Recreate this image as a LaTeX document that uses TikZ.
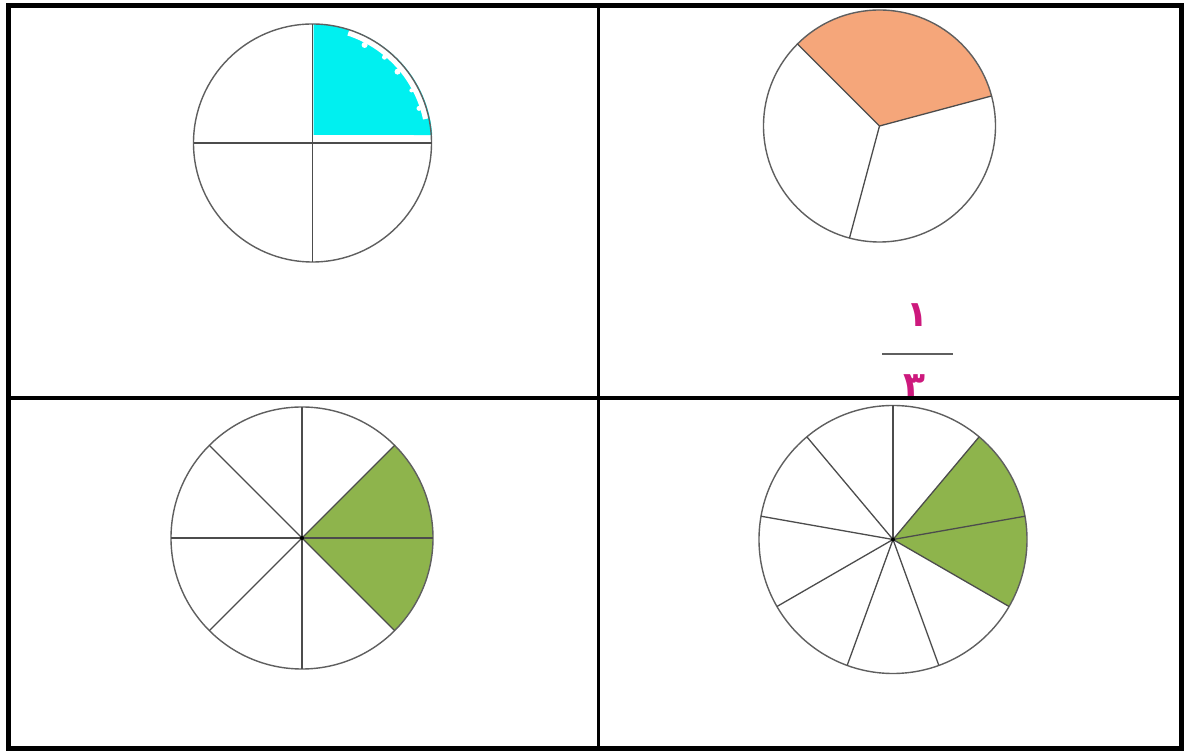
\documentclass[tikz,border=0pt]{standalone}
\usepackage{fontspec}
\newfontfamily\arabicfont[Script=Arabic]{DejaVu Sans}
\TeXXeTstate=1
\definecolor{cyanfill}{RGB}{0,240,240}
\definecolor{orangefill}{RGB}{245,166,122}
\definecolor{greenfill}{RGB}{142,180,76}
\definecolor{pinkdigit}{RGB}{205,25,125}
\definecolor{outline}{RGB}{95,95,95}
\begin{document}
\begin{tikzpicture}[x=1pt,y=1pt,
  rim/.style={draw=outline,line width=1.4pt},
  spoke/.style={draw=outline!80!black,line width=1.3pt},
  framebox/.style={line width=5pt},
  digit/.style={text=pinkdigit,font=\arabicfont\bfseries\fontsize{36}{40}\selectfont,inner sep=0pt}]
\useasboundingbox (0,0) rectangle (1184,752);
\fill[white] (0,0) rectangle (1184,752);

% top-left circle: one quarter
\coordinate (c1) at (312.5,609);
\fill[cyanfill] (313.5,617) -- (313.5,728) arc[start angle=90,end angle=3.85,radius=119] -- cycle;
\draw[white,line width=6pt] (c1) ++(72:116) arc[start angle=72,end angle=12,radius=116];
\fill[white] (c1) ++(62:111) circle[radius=3];
\fill[white] (c1) ++(50:112) circle[radius=2.5];
\fill[white] (c1) ++(40:111) circle[radius=3];
\fill[white] (c1) ++(28:112) circle[radius=2];
\fill[white] (c1) ++(18:112) circle[radius=2.5];
\draw[rim] (c1) circle[radius=119];
\draw[spoke] (c1) ++(-119,0) -- ++(238,0);
\draw[spoke] (c1) ++(0,-119) -- ++(0,238);

% top-right circle: one third
\coordinate (c2) at (879.5,626);
\fill[orangefill] (c2) -- ++(15:116) arc[start angle=15,end angle=135,radius=116] -- cycle;
\draw[rim] (c2) circle[radius=116];
\foreach \a in {15,135,255} \draw[spoke] (c2) -- ++(\a:116);

% fraction 1/3
\node[digit] (one) at (917,437) {\beginR ١\endR};
\coordinate (barL) at (882,398);
\coordinate (barR) at (953,398);
\draw[draw=outline,line width=1.5pt] (barL) -- (barR);
\node[digit] (three) at (914,366) {\beginR ٣\endR};

% bottom-left circle: eighths
\coordinate (c3) at (302,214);
\fill[greenfill] (c3) -- ++(-45:131) arc[start angle=-45,end angle=45,radius=131] -- cycle;
\draw[rim] (c3) circle[radius=131];
\foreach \a in {0,45,...,315} \draw[spoke] (c3) -- ++(\a:131);
\fill[black] (c3) circle[radius=2];

% bottom-right circle: ninths
\coordinate (c4) at (893,212.5);
\fill[greenfill] (c4) -- ++(-30:134) arc[start angle=-30,end angle=50,radius=134] -- cycle;
\draw[rim] (c4) circle[radius=134];
\foreach \a in {10,50,...,330} \draw[spoke] (c4) -- ++(\a:134);
\fill[black] (c4) circle[radius=2];

% frame
\draw[framebox] (8,3.5) rectangle (1181.5,746);
\draw[line width=4.5pt] (8,354) -- (1181.5,354);
\draw[line width=2.5pt] (598.5,3.5) -- (598.5,746);
\end{tikzpicture}
\end{document}
